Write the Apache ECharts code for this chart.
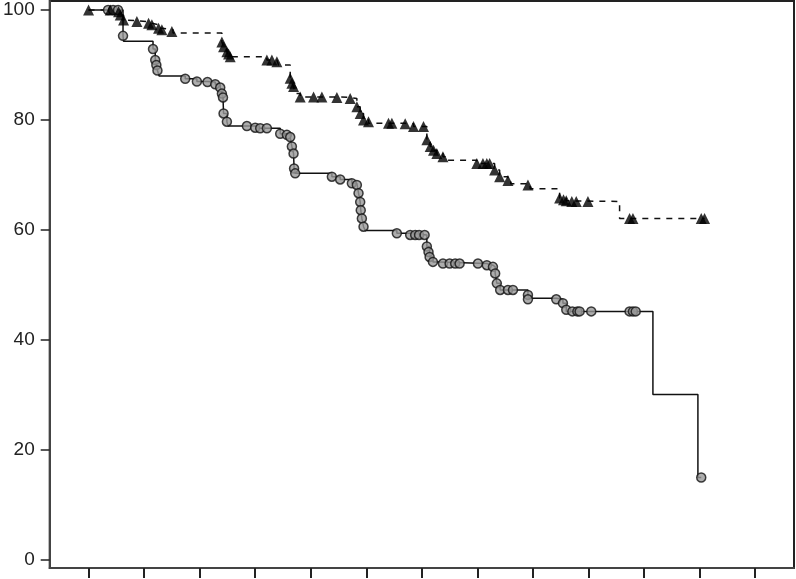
<!DOCTYPE html>
<html>
<head>
<meta charset="utf-8">
<script src="https://cdn.jsdelivr.net/npm/echarts@6/dist/echarts.min.js"></script>
<style>
html,body{margin:0;padding:0;background:#fff;}
#chart{width:796px;height:579px;}
</style>
</head>
<body>
<div id="chart"></div>
<script>
// Y tick labels and X tick positions
const yTicks = [0, 20, 40, 60, 80, 100];
const xTicks = [0, 1, 2, 3, 4, 5, 6, 7, 8, 9, 10, 11, 12];

// Group A (solid line, open grey circles): step times and survival after each step
const solidTimes = [0, 0.62, 0.63, 1.16, 1.20, 1.22, 1.24, 1.27, 1.74, 1.95, 2.14, 2.28, 2.37, 2.40, 2.42, 2.43, 2.49, 2.51, 3.05, 3.45, 3.57, 3.63, 3.66, 3.69, 3.70, 3.72, 4.38, 4.53, 4.74, 4.83, 4.86, 4.89, 4.90, 4.92, 4.95, 4.98, 5.55, 5.79, 6.09, 6.14, 6.20, 6.30, 7.17, 7.28, 7.32, 7.35, 7.41, 7.91, 7.93, 8.42, 8.54, 8.60, 10.16, 10.97, 11.03];
const solidSurv  = [100, 95.3, 94.3, 92.9, 90.9, 90.0, 89.0, 88.0, 87.5, 87.0, 86.9, 86.5, 85.9, 84.8, 84.1, 81.2, 79.7, 78.9, 78.5, 77.5, 77.3, 76.9, 75.2, 73.9, 71.2, 70.3, 69.7, 69.2, 68.5, 68.2, 66.7, 65.1, 63.6, 62.1, 60.6, 59.9, 59.4, 59.1, 57.0, 55.1, 54.2, 53.9, 53.6, 53.3, 52.1, 50.3, 49.1, 48.2, 47.6, 47.4, 46.7, 45.2, 30.1, 15.0, 15.0];
// Group A censor marks
const solidCensTimes = [0.35, 0.44, 0.53, 0.62, 1.16, 1.20, 1.22, 1.24, 1.74, 1.95, 2.14, 2.28, 2.37, 2.40, 2.42, 2.43, 2.49, 2.85, 3.00, 3.09, 3.21, 3.45, 3.57, 3.63, 3.66, 3.69, 3.70, 3.72, 4.38, 4.53, 4.74, 4.83, 4.86, 4.89, 4.90, 4.92, 4.95, 5.55, 5.79, 5.88, 5.95, 6.05, 6.09, 6.12, 6.14, 6.20, 6.38, 6.50, 6.60, 6.68, 7.01, 7.17, 7.28, 7.32, 7.35, 7.41, 7.55, 7.64, 7.91, 7.91, 8.42, 8.54, 8.60, 8.71, 8.80, 8.84, 9.05, 9.74, 9.80, 9.85, 11.03];
const solidCensSurv  = [100, 100, 100, 95.3, 92.9, 90.9, 90.0, 89.0, 87.5, 87.0, 86.9, 86.5, 85.9, 84.8, 84.1, 81.2, 79.7, 78.9, 78.6, 78.5, 78.5, 77.5, 77.3, 76.9, 75.2, 73.9, 71.2, 70.3, 69.7, 69.2, 68.5, 68.2, 66.7, 65.1, 63.6, 62.1, 60.6, 59.4, 59.1, 59.1, 59.1, 59.1, 57.0, 56.0, 55.1, 54.2, 53.9, 53.9, 53.9, 53.9, 53.9, 53.6, 53.3, 52.1, 50.3, 49.1, 49.1, 49.1, 48.2, 47.4, 47.4, 46.7, 45.5, 45.2, 45.2, 45.2, 45.2, 45.2, 45.2, 45.2, 15.0];

// Group B (dashed line, filled triangles)
const dashTimes = [0, 0.54, 0.57, 0.63, 0.66, 1.08, 1.14, 1.26, 1.32, 1.52, 2.40, 2.43, 2.49, 2.52, 3.21, 3.39, 3.42, 3.63, 3.66, 3.69, 3.72, 3.81, 4.47, 4.71, 4.83, 4.89, 4.95, 5.04, 5.70, 5.85, 6.09, 6.15, 6.21, 6.27, 6.38, 6.42, 6.99, 7.31, 7.40, 7.55, 7.60, 7.91, 7.95, 8.48, 8.60, 8.65, 9.56, 11.09];
const dashSurv  = [100, 99.7, 99.1, 98.2, 97.9, 97.6, 97.3, 96.7, 96.4, 95.8, 94.2, 93.3, 92.4, 91.5, 90.9, 90.6, 90.0, 87.6, 86.7, 86.1, 84.8, 84.2, 84.1, 83.9, 82.4, 81.2, 80.0, 79.4, 79.3, 78.8, 76.4, 75.2, 74.5, 73.9, 73.3, 72.7, 72.1, 70.9, 69.7, 69.0, 68.4, 68.0, 67.5, 65.8, 65.3, 65.2, 62.1, 62.1];
const dashCensTimes = [0, 0.39, 0.54, 0.57, 0.63, 0.87, 1.08, 1.14, 1.26, 1.32, 1.50, 2.40, 2.43, 2.49, 2.52, 2.55, 3.21, 3.30, 3.39, 3.63, 3.66, 3.69, 3.81, 4.05, 4.20, 4.47, 4.71, 4.83, 4.89, 4.95, 5.04, 5.40, 5.46, 5.70, 5.85, 6.03, 6.09, 6.15, 6.21, 6.27, 6.38, 6.99, 7.10, 7.17, 7.22, 7.31, 7.40, 7.55, 7.91, 8.48, 8.55, 8.60, 8.70, 8.78, 8.99, 9.74, 9.80, 11.03, 11.09];
const dashCensSurv  = [100, 100, 99.7, 99.1, 98.2, 97.9, 97.6, 97.3, 96.7, 96.4, 96.1, 94.2, 93.3, 92.4, 92.0, 91.5, 90.9, 90.9, 90.6, 87.6, 86.7, 86.1, 84.2, 84.2, 84.2, 84.1, 83.9, 82.4, 81.2, 80.0, 79.7, 79.4, 79.4, 79.3, 78.8, 78.8, 76.4, 75.2, 74.5, 73.9, 73.3, 72.1, 72.1, 72.1, 72.1, 70.9, 69.7, 69.0, 68.2, 65.8, 65.5, 65.3, 65.2, 65.2, 65.2, 62.1, 62.1, 62.1, 62.1];

const zip = (a, b) => a.map((v, i) => [v, b[i]]);

const chart = echarts.init(document.getElementById('chart'), null, {renderer: 'canvas'});
chart.setOption({
  animation: false,
  backgroundColor: '#fff',
  grid: {left: 49, right: 2, top: 1, bottom: 11, show: true, borderColor: '#222', borderWidth: 2, backgroundColor: 'transparent'},
  xAxis: {
    type: 'value', min: -0.70, max: 12.70,
    splitLine: {show: false},
    axisLine: {onZero: false, lineStyle: {color: '#444', width: 2}},
    axisTick: {show: true, length: 10, lineStyle: {color: '#222', width: 2}, customValues: xTicks},
    axisLabel: {show: false}
  },
  yAxis: {
    type: 'value', min: -1.4545, max: 101.64,
    splitLine: {show: false},
    axisLine: {show: true, onZero: false, lineStyle: {color: '#444', width: 2}},
    axisTick: {show: true, length: 9, lineStyle: {color: '#222', width: 1.5}, customValues: yTicks},
    axisLabel: {customValues: yTicks, fontFamily: 'Liberation Sans, Arial, sans-serif', fontSize: 19, color: '#222', margin: 15}
  },
  series: [
    {type: 'line', step: 'end', data: zip(dashTimes, dashSurv), symbol: 'none',
     lineStyle: {color: '#111', width: 1.5, type: [6, 6]}, z: 2},
    {type: 'line', step: 'end', data: zip(solidTimes, solidSurv), symbol: 'none',
     lineStyle: {color: '#111', width: 1.5}, z: 2},
    {type: 'scatter', data: zip(solidCensTimes, solidCensSurv), symbol: 'circle', symbolSize: 9,
     itemStyle: {color: '#999', borderColor: '#111', borderWidth: 1.5}, z: 3},
    {type: 'scatter', data: zip(dashCensTimes, dashCensSurv), symbol: 'triangle', symbolSize: 11,
     itemStyle: {color: '#000'}, z: 4}
  ]
});
</script>
</body>
</html>
